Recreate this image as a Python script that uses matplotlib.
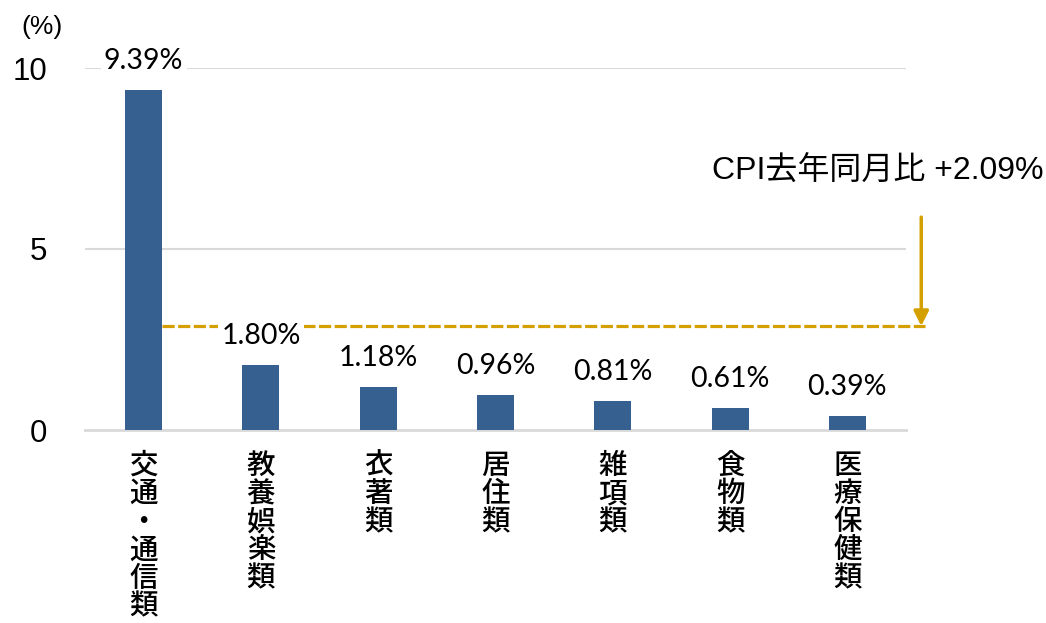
import matplotlib
matplotlib.use("Agg")
import matplotlib.pyplot as plt

plt.rcParams['font.family'] = ['Liberation Sans', 'Noto Sans CJK JP', 'DejaVu Sans']

categories = ["交通・通信類", "教養娯楽類", "衣著類", "居住類", "雑項類", "食物類", "医療保健類"]
values = [9.39, 1.80, 1.18, 0.96, 0.81, 0.61, 0.39]
value_labels = ["9.39%", "1.80%", "1.18%", "0.96%", "0.81%", "0.61%", "0.39%"]
yticks = [0, 5, 10]
cpi_line = 2.87
cpi_text = "CPI去年同月比 +2.09%"

bar_color = "#36608F"
gold = "#D4A000"
grid_color = "#D9D9D9"

fig = plt.figure(figsize=(10.46, 6.23), dpi=100)
ax = fig.add_axes([85/1046, 1-430/623, 821/1046, 362/623])

x = list(range(len(categories)))
bw = 0.315
ax.bar(x, values, width=bw, color=bar_color, zorder=3)

ax.set_xlim(-0.5, len(categories) - 0.5)
ax.set_ylim(0, 10)
ax.set_yticks(yticks)
ax.set_yticklabels([str(t) for t in yticks], fontsize=22.5)
ax.tick_params(axis='y', length=0, pad=27)
for s in ['top', 'right', 'left']:
    ax.spines[s].set_visible(False)
ax.spines['bottom'].set_color(grid_color)
ax.spines['bottom'].set_linewidth(2)
for t in yticks[1:]:
    ax.axhline(t, color=grid_color, lw=1.5, zorder=1)

ax.set_xticks(x)
ax.set_xticklabels(["\n".join(c) for c in categories], fontsize=20.5,
                   family=['Noto Sans CJK JP'], fontweight='medium',
                   linespacing=0.965, va='top')
ax.tick_params(axis='x', length=0, pad=15)

# CPI dashed line
ax.plot([bw/2, 6.66], [cpi_line, cpi_line], color=gold, lw=2.3,
        dashes=(3.8, 1.1), zorder=2, clip_on=False)

# value labels
for xi, v, lab in zip(x, values, value_labels):
    ax.annotate(lab, (xi, v), xytext=(0, 15), textcoords='offset points',
                ha='center', va='baseline', fontsize=20.5, family=['Lato'],
                bbox=dict(facecolor='white', edgecolor='none', pad=2.5), zorder=4)

# arrow and annotation
ax.annotate("", xy=(6.63, cpi_line), xytext=(6.63, 5.88),
            arrowprops=dict(arrowstyle='-|>', color=gold, lw=2.5,
                            mutation_scale=22, shrinkA=0, shrinkB=0),
            annotation_clip=False, zorder=5)
ax.text(1043/1046, 1-172/623, cpi_text, transform=fig.transFigure, ha='right', va='center',
        fontsize=23, color='black')

fig.text(42/1046, 1-27/623, "(%)", ha='center', va='center', fontsize=19)

fig.savefig("out.png", dpi=100)
